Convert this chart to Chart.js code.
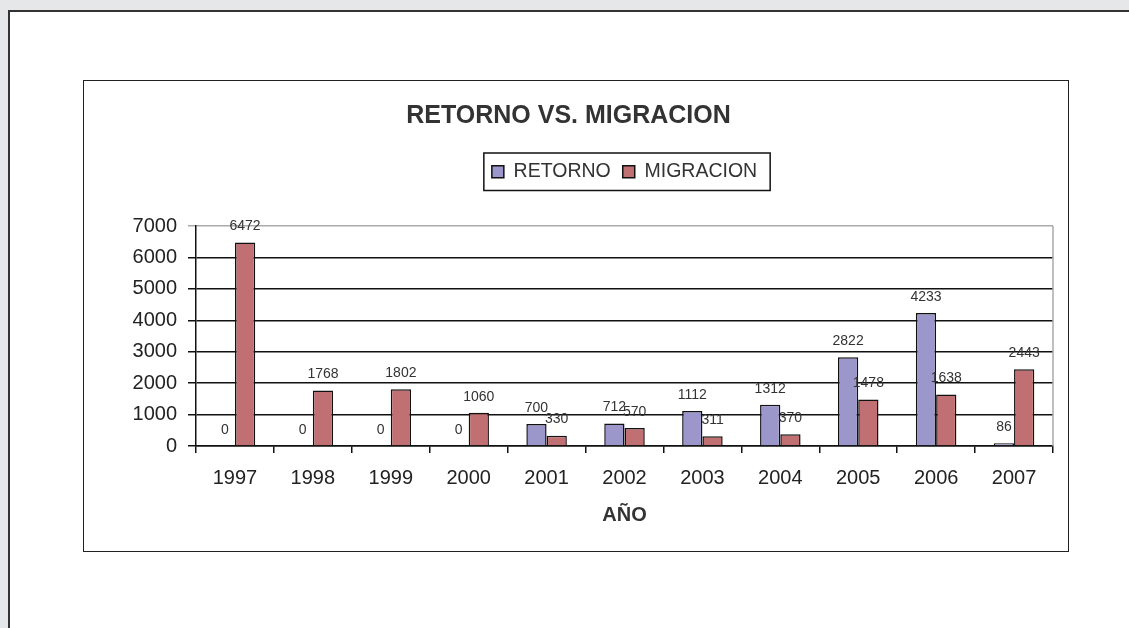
<!DOCTYPE html>
<html>
<head>
<meta charset="utf-8">
<script src="https://cdn.jsdelivr.net/npm/chart.js@4"></script>
<style>
  html, body { margin: 0; padding: 0; }
  body { width: 1129px; height: 628px; background: #e6e7e8; overflow: hidden; position: relative; }
  #hoja { position: absolute; left: 8px; top: 10px; width: 1200px; height: 700px; background: #fff;
          border-left: 2px solid #333; border-top: 2px solid #333; }
  #marco { position: absolute; left: 83px; top: 80px; width: 984px; height: 470px; border: 1px solid #222; background: #fff; }
  #grafico { display: block; }
</style>
</head>
<body>
<div id="hoja"></div>
<div id="marco"><canvas id="grafico" width="984" height="470"></canvas></div>
<script>
// datos
const anios = ["1997", "1998", "1999", "2000", "2001", "2002", "2003", "2004", "2005", "2006", "2007"];
const retorno = [0, 0, 0, 0, 700, 712, 1112, 1312, 2822, 4233, 86];
const migracion = [6472, 1768, 1802, 1060, 330, 570, 311, 370, 1478, 1638, 2443];

const fuente = "'Liberation Sans', Arial, sans-serif";

// etiquetas encima de cada barra, borde derecho y recuadro de la leyenda
const etiquetas = {
  id: "etiquetas",
  beforeInit(chart) {
    // mas espacio entre la leyenda y el grafico
    const fitOrig = chart.legend.fit;
    chart.legend.fit = function () {
      fitOrig.call(this);
      this.height += 34.5;
    };
  },
  afterDatasetsDraw(chart) {
    const ctx = chart.ctx;
    ctx.save();
    ctx.font = "14px " + fuente;
    ctx.fillStyle = "#333";
    ctx.textAlign = "center";
    ctx.textBaseline = "middle";
    chart.data.datasets.forEach((ds, i) => {
      chart.getDatasetMeta(i).data.forEach((bar, j) => {
        ctx.fillText(String(ds.data[j]), bar.x, bar.y - 16);
      });
    });
    const a = chart.chartArea;
    ctx.strokeStyle = "#aaa";
    ctx.lineWidth = 1.5;
    ctx.beginPath();
    ctx.moveTo(a.right, a.top);
    ctx.lineTo(a.right, a.bottom);
    ctx.stroke();
    ctx.restore();
  },
  afterDraw(chart) {
    const cajas = chart.legend.legendHitBoxes;
    if (!cajas || !cajas.length) return;
    const ctx = chart.ctx;
    const ult = cajas[cajas.length - 1];
    const x1 = cajas[0].left - 8, x2 = ult.left + ult.width + 13;
    const y1 = cajas[0].top - 9, y2 = cajas[0].top + cajas[0].height + 9;
    ctx.save();
    ctx.strokeStyle = "#111";
    ctx.lineWidth = 1.5;
    ctx.strokeRect(x1, y1, x2 - x1, y2 - y1);
    ctx.restore();
  }
};

new Chart(document.getElementById("grafico").getContext("2d"), {
  type: "bar",
  data: {
    labels: anios,
    datasets: [
      { label: "RETORNO", data: retorno, backgroundColor: "#9b97ca", borderColor: "#111", borderWidth: 1.5,
        categoryPercentage: 0.52, barPercentage: 1.0 },
      { label: "MIGRACION", data: migracion, backgroundColor: "#c07072", borderColor: "#111", borderWidth: 1.5,
        categoryPercentage: 0.52, barPercentage: 1.0 }
    ]
  },
  options: {
    responsive: false,
    animation: false,
    layout: { padding: { left: 0, right: 15, top: 0, bottom: 24 } },
    plugins: {
      title: {
        display: true,
        text: "RETORNO VS. MIGRACION",
        color: "#333",
        font: { family: fuente, size: 25, weight: "bold" },
        padding: { top: 20, bottom: 19 }
      },
      legend: {
        fullSize: false,
        labels: {
          color: "#333",
          font: { family: fuente, size: 19.5 },
          boxWidth: 12,
          boxHeight: 12,
          padding: 12
        }
      },
      tooltip: { enabled: false }
    },
    scales: {
      x: {
        grid: { drawOnChartArea: false, color: "#111", lineWidth: 1.5, tickLength: 7 },
        border: { color: "#111", width: 1.5 },
        ticks: { color: "#222", font: { family: fuente, size: 20 }, padding: 13 },
        title: { display: true, text: "AÑO", color: "#333", font: { family: fuente, size: 20, weight: "bold" }, padding: 0 }
      },
      y: {
        min: 0,
        max: 7000,
        grid: {
          color: c => c.tick && c.tick.value === 7000 ? "#aaa" : "#111",
          lineWidth: 1.5,
          tickLength: 8
        },
        border: { color: "#111", width: 1.5 },
        ticks: { stepSize: 1000, color: "#222", font: { family: fuente, size: 20 }, padding: 11,
                 callback: v => String(v) },
        afterFit(scale) { scale.width = 112; }
      }
    }
  },
  plugins: [etiquetas]
});
</script>
</body>
</html>
